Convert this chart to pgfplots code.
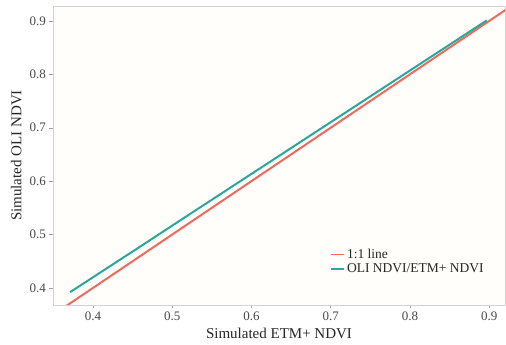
\documentclass[border=0pt]{standalone}
\usepackage{pgfplots}
\pgfplotsset{compat=1.18}
\usetikzlibrary{calc}
\usepackage{fontspec}
\setmainfont{Liberation Serif}
\definecolor{bgc}{HTML}{FFFEFA}
\definecolor{redl}{HTML}{EE6A5E}
\definecolor{teall}{HTML}{2AA79B}
\begin{document}
\begin{tikzpicture}
\begin{axis}[
  scale only axis,
  width=452pt, height=299pt,
  xmin=0.3495, xmax=0.920,
  ymin=0.368, ymax=0.928,
  xtick={0.4,0.5,0.6,0.7,0.8,0.9},
  ytick={0.4,0.5,0.6,0.7,0.8,0.9},
  /pgf/number format/assume math mode=true,
  tick align=outside,
  tick style={gray!75, thin},
  major tick length=3.5pt,
  axis line style={gray!35},
  axis background/.style={fill=bgc},
  ticklabel style={font=\fontsize{13}{15}\selectfont, text=black!72},
  xlabel={Simulated ETM+ NDVI},
  ylabel={Simulated OLI NDVI},
  label style={font=\fontsize{15}{17}\selectfont, text=black!85},
  xlabel style={at={(axis description cs:0.5,-0.094)}, anchor=center},
  ylabel style={at={(axis description cs:-0.081,0.5)}, anchor=center},
  xtick pos=bottom, ytick pos=left,
  legend style={draw=none, fill=none, at={(0.613,0.145)}, anchor=west,
    inner sep=0pt, font=\fontsize{13.5}{15}\selectfont, cells={anchor=west},
    row sep=0pt, text=black!85},
  legend image code/.code={\draw[#1, line width=1.8pt] (0pt,0pt) -- (13pt,0pt);},
  clip=true,
]
\addplot[redl, line width=2pt] coordinates {(0.3,0.3) (1.0,1.0)};
\addlegendentry{1:1 line}
\addplot[teall, line width=2pt] coordinates {(0.371,0.392) (0.455,0.473) (0.523,0.539) (0.680,0.691) (0.897,0.901)};
\addlegendentry{OLI NDVI/ETM+ NDVI}
\end{axis}
\pgfresetboundingbox
\path[use as bounding box] ($(current axis.south west)+(-53pt,-40pt)$) rectangle ($(current axis.north east)+(1pt,6pt)$);
\end{tikzpicture}
\end{document}
